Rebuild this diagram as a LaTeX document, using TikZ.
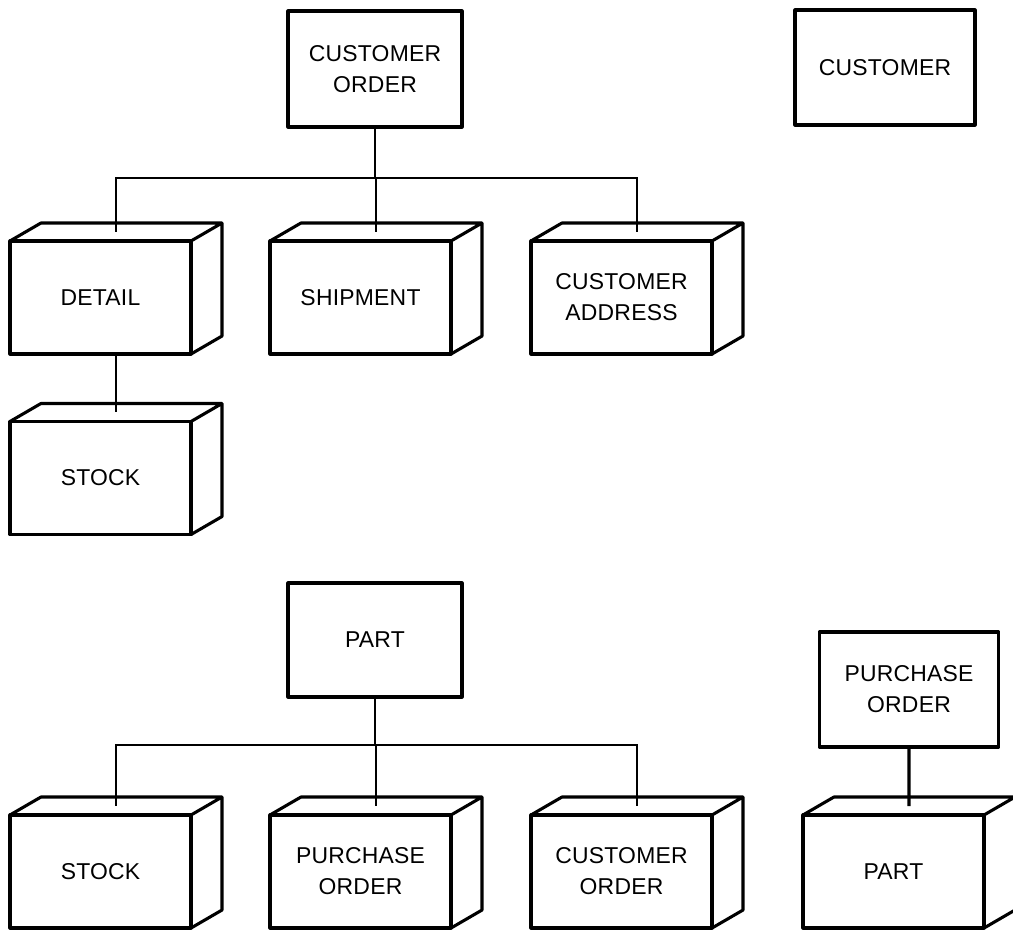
\documentclass[tikz,border=0pt]{standalone}
\usepackage{fontspec}
\setmainfont{Liberation Sans}[LetterSpace=1]
\usepackage{tikz}

\begin{document}
\begin{tikzpicture}[
        x=0.025cm, y=-0.025cm,
        % Styles globaux
        base/.style={align=center, font=\fontsize{16.3}{22}\selectfont, inner sep=0pt},
        % Style "Entite" (boite simple)
        box_entity/.style={base, draw, line width=2.2pt, outer sep=0pt, line join=round},
        % Style "Segment" (face avant du cube)
        box_cube/.style={box_entity, minimum width=4.525cm, minimum height=2.825cm},
        % Aretes du cube
        cube_edge/.style={line width=2.2pt, line join=round},
        % Style des liens
        link/.style={line width=1pt}
    ]
    \useasboundingbox (0,0) rectangle (1013,930);

    % --- HAUT : CUSTOMER ORDER ---
    \node[box_entity, minimum width=4.35cm, minimum height=2.9cm] (order) at (375,69) {CUSTOMER\\ORDER};
    \node[box_entity, minimum width=4.5cm, minimum height=2.875cm] (customer) at (885,67.5) {CUSTOMER};

    \node[box_cube] (detail) at (100.5,297.5) {DETAIL};
    \node[box_cube] (shipment) at (360.5,297.5) {SHIPMENT};
    \node[box_cube] (address) at (621.5,297.5) {CUSTOMER\\ADDRESS};
    \node[box_cube] (stockA) at (100.5,478) {STOCK};

    % --- BAS : PART ---
    \node[box_entity, minimum width=4.35cm, minimum height=2.85cm] (part) at (375,640) {PART};
    \node[box_entity, minimum width=4.475cm, minimum height=2.875cm] (purchase) at (909,689.5) {PURCHASE\\ORDER};

    \node[box_cube] (stockB) at (100.5,871.5) {STOCK};
    \node[box_cube] (purchaseB) at (360.5,871.5) {PURCHASE\\ORDER};
    \node[box_cube] (orderB) at (621.5,871.5) {CUSTOMER\\ORDER};
    \node[box_cube] (partB) at (893.5,871.5) {PART};

    % --- PROFONDEUR DES CUBES ---
    \foreach \c in {detail, shipment, address, stockA, stockB, purchaseB, orderB, partB}
        \draw[cube_edge] (\c.north west) -- ++(31,-18) -- ([shift={(31,-18)}]\c.north east)
            -- ([shift={(31,-18)}]\c.south east) -- (\c.south east)
            (\c.north east) -- ++(31,-18);

    % --- LIENS ---
    \coordinate (busA) at (375,178);
    \coordinate (busB) at (375,745);
    \draw[link] (order) -- (busA);
    \foreach \c in {detail, shipment, address}
        \draw[link] (busA) -| ([shift={(15.5,-9)}]\c.north);
    \draw[link] ([shift={(15.5,0)}]detail.south) -- ([shift={(15.5,-9)}]stockA.north);

    \draw[link] (part) -- (busB);
    \foreach \c in {stockB, purchaseB, orderB}
        \draw[link] (busB) -| ([shift={(15.5,-9)}]\c.north);
    \draw[cube_edge] (purchase) -- ([shift={(15.5,-9)}]partB.north);

\end{tikzpicture}
\end{document}
